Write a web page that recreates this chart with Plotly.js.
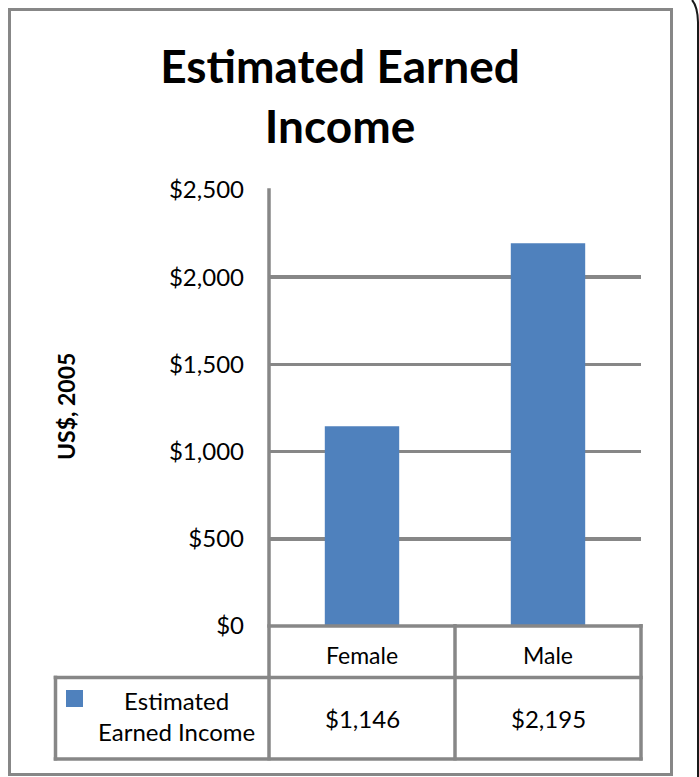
<!DOCTYPE html>
<html>
<head>
<meta charset="utf-8">
<script src="https://cdn.plot.ly/plotly-3.0.1.min.js"></script>
<style>html,body{margin:0;padding:0;background:#fff;}#chart{width:699px;height:777px;}</style>
</head>
<body>
<div id="chart"></div>
<script>
// ---- data ----
const categories = ['Female', 'Male'];
const values = [1146, 2195];
const seriesName = 'Estimated Earned Income';
const yTickVals = [0, 500, 1000, 1500, 2000, 2500];
const chartTitle = 'Estimated Earned<br>Income';
const yTitle = 'US$, 2005';

// ---- layout helpers (pixel -> paper) ----
const W = 699, H = 777, L = 269, R = 58, T = 190, B = 151;
const pw = W - L - R, ph = H - T - B;
const px = x => (x - L) / pw;
const py = y => (H - B - y) / ph;
const GRAY = '#878787';
const FONT = 'Lato, "Open Sans", sans-serif';
const fmt = v => '$' + v.toLocaleString('en-US');

const shapes = [];
function line(x0, y0, x1, y1, w, c) {
  shapes.push({type: 'line', xref: 'paper', yref: 'paper', x0: px(x0), y0: py(y0), x1: px(x1), y1: py(y1),
    line: {color: c || GRAY, width: w || 3.5}, layer: 'above'});
}
// outer chart border
shapes.push({type: 'rect', xref: 'paper', yref: 'paper', x0: px(9.5), y0: py(9.5), x1: px(671.5), y1: py(774.5),
  line: {color: GRAY, width: 3}, layer: 'below'});
// plot-area left edge (value axis line) and data table grid
line(269, 188.3, 269, 760.5);
line(455, 624, 455, 760.5);
line(641, 624, 641, 760.5);
line(267.3, 626, 642.7, 626);
line(53.7, 677.5, 642.7, 677.5);
line(53.7, 759, 642.7, 759);
line(55.5, 675.7, 55.5, 760.5);
// legend key
shapes.push({type: 'rect', xref: 'paper', yref: 'paper', x0: px(66), y0: py(690), x1: px(83), y1: py(707),
  fillcolor: '#4F81BD', line: {width: 0}, layer: 'above'});
// edge artifact on the right of the picture
shapes.push({type: 'path', xref: 'paper', yref: 'paper',
  path: `M ${px(692)} ${py(0)} Q ${px(697.5)} ${py(6)} ${px(698)} ${py(22)} L ${px(698)} ${py(777)}`,
  line: {color: '#1a1a1a', width: 2}, layer: 'above'});

const annotations = [];
categories.forEach((c, i) => {
  annotations.push({xref: 'x', yref: 'paper', x: c, y: py(655), text: c, showarrow: false,
    xanchor: 'center', yanchor: 'middle', font: {family: FONT, size: 23, color: '#000'}});
  annotations.push({xref: 'x', yref: 'paper', x: c, y: py(718), text: fmt(values[i]), showarrow: false,
    xanchor: 'center', yanchor: 'middle', font: {family: FONT, size: 24, color: '#000'}});
});
annotations.push({xref: 'paper', yref: 'paper', x: px(176), y: py(716),
  text: seriesName.replace(' Earned', '<br>Earned'), showarrow: false, align: 'center',
  xanchor: 'center', yanchor: 'middle', font: {family: FONT, size: 24, color: '#000'}});
annotations.push({xref: 'paper', yref: 'paper', x: px(66), y: py(407), text: '<b>' + yTitle + '</b>',
  textangle: -90, showarrow: false, xanchor: 'center', yanchor: 'middle',
  font: {family: FONT, size: 23, color: '#000'}});

const data = [{
  type: 'bar', x: categories, y: values, name: seriesName,
  marker: {color: '#4F81BD', line: {width: 0}}, hoverinfo: 'skip'
}];

const layout = {
  width: W, height: H,
  margin: {l: L, r: R, t: T, b: B, pad: 0},
  paper_bgcolor: '#fff', plot_bgcolor: '#fff',
  showlegend: false,
  bargap: 0.6,
  title: {text: '<b>' + chartTitle + '</b>', font: {family: FONT, size: 46, color: '#000'},
    xref: 'container', yref: 'container', x: 340 / W, xanchor: 'center', y: 1 - 83 / H, yanchor: 'middle'},
  xaxis: {showticklabels: false, ticks: '', showgrid: false, zeroline: false,
    showline: false, fixedrange: true},
  yaxis: {range: [0, 2500], tickmode: 'array', tickvals: yTickVals, ticktext: yTickVals.map(fmt),
    showgrid: true, gridcolor: GRAY, gridwidth: 3.5, zeroline: false,
    showline: false, ticks: '', ticklabelstandoff: 24,
    tickfont: {family: FONT, size: 24, color: '#000'}, fixedrange: true},
  shapes: shapes,
  annotations: annotations
};

Plotly.newPlot('chart', data, layout, {staticPlot: true, displayModeBar: false});
</script>
</body>
</html>
